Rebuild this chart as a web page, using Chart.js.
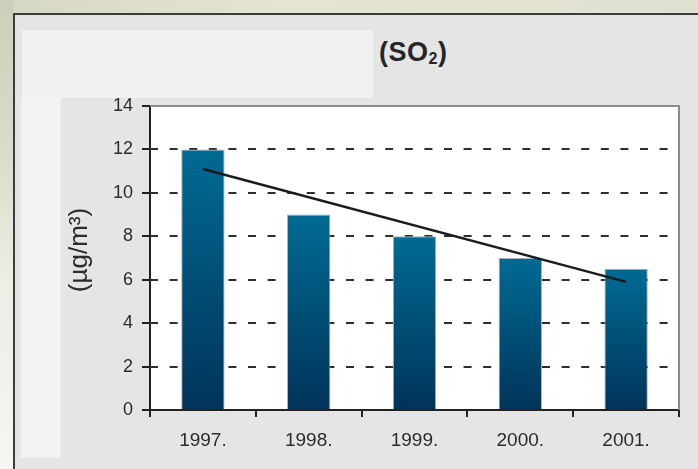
<!DOCTYPE html>
<html>
<head>
<meta charset="utf-8">
<script src="https://cdn.jsdelivr.net/npm/chart.js@4/dist/chart.umd.min.js"></script>
<style>
  html, body { margin: 0; padding: 0; }
  body {
    width: 698px; height: 469px; position: relative; overflow: hidden;
    background: #e5e5e5; font-family: "Liberation Sans", Arial, sans-serif;
  }
  #edgeTop {
    position: absolute; left: 0; top: 0; width: 698px; height: 13px;
    background: linear-gradient(to right, #d6d7c3, #e5e4d3 40%, #e1e1d1);
  }
  #edgeLeft {
    position: absolute; left: 0; top: 0; width: 13px; height: 469px;
    background: linear-gradient(to bottom, #cdcfb9, #dadac8 30%, #ededE4 60%, #f6f6f2);
  }
  #frame {
    position: absolute; left: 13px; top: 13px; width: 685px; height: 456px;
    border-left: 2px solid #3c3c3c; border-top: 2px solid #3c3c3c;
    background: #e5e5e5; box-sizing: border-box;
  }
  #capBox { position: absolute; left: 22px; top: 30px; width: 351px; height: 68px; background: #f1f1f1; }
  #sideBox { position: absolute; left: 21px; top: 98px; width: 40px; height: 360px; background: #f2f2f2; }
  #title {
    position: absolute; left: 379px; top: 37px; line-height: 27px;
    font: bold 27px "Liberation Sans", Arial, sans-serif; color: #262626; white-space: nowrap;
    letter-spacing: 0.5px;
  }
  #title sub { font-size: 16px; line-height: 0; vertical-align: -3px; }
  canvas { position: absolute; left: 0; top: 0; }
</style>
</head>
<body>
<div id="edgeTop"></div>
<div id="edgeLeft"></div>
<div id="frame"></div>
<div id="capBox"></div>
<div id="sideBox"></div>
<div id="title">(SO<sub>2</sub>)</div>
<canvas id="chart" width="698" height="469"></canvas>
<script>
// Annual mean SO2 concentration
const years = ['1997.', '1998.', '1999.', '2000.', '2001.'];
const so2 = [12, 9, 8, 7, 6.5];
// Linear trend: start and end values
const trend = [11.1, null, null, null, 5.9];
const yTicks = [0, 2, 4, 6, 8, 10, 12, 14];
const yTitle = '(\u00b5g/m\u00b3)';

const INK = '#222222';
const LABEL = '#2b2b2b';

// Per-bar vertical gradient, from the bar top down to the baseline
function barFill(ctx) {
  const chart = ctx.chart;
  const area = chart.chartArea;
  if (!area || !ctx.parsed) return '#00507a';
  const yScale = chart.scales.y;
  const top = yScale.getPixelForValue(ctx.parsed.y);
  const base = yScale.getPixelForValue(0);
  const g = chart.ctx.createLinearGradient(0, top, 0, base);
  g.addColorStop(0, '#006b93');
  g.addColorStop(1, '#00335a');
  return g;
}

const plotFrame = {
  id: 'plotFrame',
  beforeDraw(chart) {
    const { ctx, chartArea: a } = chart;
    ctx.save();
    ctx.fillStyle = '#ffffff';
    ctx.fillRect(a.left, a.top, a.right - a.left, a.bottom - a.top);
    ctx.restore();
  },
  beforeDatasetsDraw(chart) {
    const { ctx, chartArea: a, scales } = chart;
    ctx.save();
    ctx.strokeStyle = '#2e2e2e';
    ctx.lineWidth = 2;
    ctx.setLineDash([8, 11.6]);
    yTicks.forEach(v => {
      if (v === 0 || v === yTicks[yTicks.length - 1]) return;
      const y = Math.round(scales.y.getPixelForValue(v));
      ctx.beginPath();
      ctx.moveTo(a.left, y);
      ctx.lineTo(a.right, y);
      ctx.stroke();
    });
    ctx.restore();
  },
  afterDraw(chart) {
    const { ctx, chartArea: a } = chart;
    ctx.save();
    // top and right edges of the plot box
    ctx.strokeStyle = '#8c8c8c';
    ctx.lineWidth = 2;
    ctx.beginPath();
    ctx.moveTo(a.left, a.top);
    ctx.lineTo(a.right, a.top);
    ctx.lineTo(a.right, a.bottom);
    ctx.stroke();
    // unit label along the value axis
    ctx.translate(80, 250);
    ctx.rotate(-Math.PI / 2);
    ctx.fillStyle = LABEL;
    ctx.font = '26px "Liberation Sans", Arial, sans-serif';
    ctx.textAlign = 'center';
    ctx.textBaseline = 'middle';
    ctx.fillText(yTitle, 0, 0);
    ctx.restore();
  }
};

new Chart(document.getElementById('chart'), {
  type: 'bar',
  data: {
    labels: years,
    datasets: [
      {
        type: 'line',
        data: trend,
        spanGaps: true,
        borderColor: '#1c1c1c',
        borderWidth: 2.5,
        pointRadius: 0,
        fill: false,
        order: 0
      },
      {
        data: so2,
        backgroundColor: barFill,
        borderColor: '#a7b3bc',
        borderWidth: 1,
        categoryPercentage: 1,
        barPercentage: 0.41,
        order: 1
      }
    ]
  },
  options: {
    responsive: false,
    animation: false,
    layout: { padding: { left: 0, top: 106, right: 19, bottom: 0 } },
    plugins: { legend: { display: false }, tooltip: { enabled: false }, title: { display: false } },
    scales: {
      x: {
        z: 1,
        offset: true,
        grid: { display: true, offset: true, drawOnChartArea: false, drawTicks: true, tickLength: 7, color: INK, lineWidth: 2 },
        border: { display: true, color: INK, width: 2 },
        ticks: { color: LABEL, padding: 12, font: { family: '"Liberation Sans", Arial, sans-serif', size: 19 } },
        afterFit(scale) { scale.height = 59; }
      },
      y: {
        z: 1,
        min: 0,
        max: 14,
        grid: { display: true, drawOnChartArea: false, drawTicks: true, tickLength: 8, color: INK, lineWidth: 2 },
        border: { display: true, color: INK, width: 2 },
        ticks: { color: LABEL, padding: 9, font: { family: '"Liberation Sans", Arial, sans-serif', size: 18 } },
        afterBuildTicks(scale) { scale.ticks = yTicks.map(v => ({ value: v })); },
        afterFit(scale) { scale.width = 150; }
      }
    }
  },
  plugins: [plotFrame]
});
</script>
</body>
</html>
